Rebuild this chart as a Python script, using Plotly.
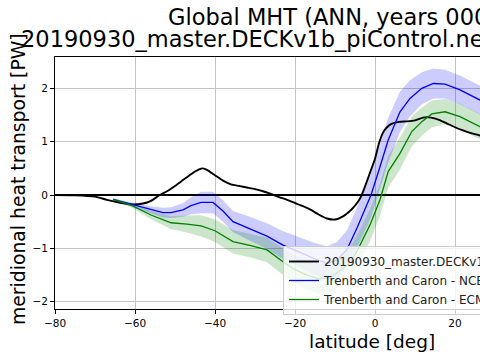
import plotly.graph_objects as go

# ---- data ----
model_lat = [-80, -75, -70, -67, -64, -61, -58, -56, -54, -52, -50, -48, -46, -44, -43, -42,
             -40, -38, -36, -34, -32, -30, -28, -26, -24, -22, -20, -18, -16, -14, -12, -10,
             -8, -6, -5, -4, -3, -2, -1, 0, 1, 2, 3, 4, 6, 8, 10, 12, 13, 14, 16, 18, 20,
             22, 24, 26, 28]
model_mht = [0.0, -0.005, -0.03, -0.09, -0.14, -0.175, -0.16, -0.11, -0.01, 0.07, 0.17, 0.28,
             0.39, 0.48, 0.50, 0.47, 0.37, 0.27, 0.20, 0.17, 0.14, 0.11, 0.07, 0.02, -0.04,
             -0.09, -0.15, -0.21, -0.28, -0.37, -0.44, -0.46, -0.40, -0.28, -0.20, -0.10,
             0.06, 0.26, 0.47, 0.68, 0.97, 1.17, 1.27, 1.33, 1.37, 1.38, 1.40, 1.45, 1.46,
             1.45, 1.41, 1.34, 1.27, 1.21, 1.16, 1.12, 1.08]

ncep_lat = [-65.5, -61, -57, -53, -51, -48, -46, -43.5, -40.5, -38, -35.5, -32, -27, -23, -21,
            -18, -15, -12, -9.5, -7, -4.5, -2, -1, 1.25, 3.3, 6.25, 8.75, 11.7, 14.6, 17.5,
            21.25, 26.25, 29]
ncep_mht = [-0.08, -0.17, -0.26, -0.33, -0.33, -0.28, -0.20, -0.14, -0.14, -0.30, -0.50, -0.61,
            -0.77, -0.94, -1.00, -1.10, -1.20, -1.28, -1.22, -1.02, -0.62, -0.20, 0.0, 0.53,
            1.03, 1.56, 1.81, 2.00, 2.09, 2.08, 1.97, 1.78, 1.65]
ncep_err = [0.02, 0.04, 0.06, 0.09, 0.10, 0.13, 0.16, 0.20, 0.20, 0.20, 0.20, 0.22, 0.24, 0.26,
            0.27, 0.28, 0.30, 0.32, 0.34, 0.36, 0.38, 0.40, 0.42, 0.42, 0.42, 0.38, 0.34, 0.30,
            0.28, 0.27, 0.27, 0.27, 0.27]

ecmwf_lat = [-65.5, -61, -56, -51, -47, -43.5, -40, -35.5, -31, -27, -23, -20, -17, -14, -11,
             -8.5, -6, -4, -1.25, 1.25, 3.3, 6.25, 9.2, 11.7, 14.2, 17.5, 21.25, 26.25, 29]
ecmwf_mht = [-0.08, -0.19, -0.375, -0.52, -0.545, -0.58, -0.67, -0.875, -0.95, -1.03, -1.25,
             -1.40, -1.50, -1.57, -1.55, -1.40, -1.25, -0.98, -0.56, -0.09, 0.44, 0.78, 1.19,
             1.375, 1.52, 1.56, 1.47, 1.28, 1.18]
ecmwf_err = [0.02, 0.04, 0.08, 0.12, 0.16, 0.20, 0.21, 0.22, 0.22, 0.23, 0.25, 0.26, 0.27, 0.28,
             0.29, 0.30, 0.30, 0.30, 0.30, 0.30, 0.30, 0.30, 0.28, 0.26, 0.25, 0.24, 0.24, 0.24,
             0.24]

x_ticks = [-80, -60, -40, -20, 0, 20, 40]
y_ticks = [-2, -1, 0, 1, 2]

title1 = "Global MHT (ANN, years 0001-0050)"
title2 = "20190930_master.DECKv1b_piControl.ne30_oEC.edison"
model_name = "20190930_master.DECKv1b_piControl.ne30_oEC.edison"
ncep_name = "Trenberth and Caron - NCEP"
ecmwf_name = "Trenberth and Caron - ECMWF"

# ---- figure geometry (pixels) ----
W, H = 480, 360
L, R, T, B = 55, 0, 57, 51
pw, ph = W - L - R, H - T - B


def px(xp):
    return (xp - L) / pw


def py(yp):
    return (H - B - yp) / ph


FONT = "DejaVu Sans"

fig = go.Figure()


def band(lat, val, err, color):
    up = [v + e for v, e in zip(val, err)]
    lo = [v - e for v, e in zip(val, err)]
    fig.add_trace(go.Scatter(x=lat + lat[::-1], y=up + lo[::-1], fill="toself",
                             fillcolor=color, line=dict(width=0), mode="lines",
                             showlegend=False, hoverinfo="skip"))


band(ncep_lat, ncep_mht, ncep_err, "rgba(0,0,255,0.2)")
band(ecmwf_lat, ecmwf_mht, ecmwf_err, "rgba(0,128,0,0.2)")

fig.add_trace(go.Scatter(x=model_lat, y=model_mht, mode="lines", name=model_name,
                         line=dict(color="black", width=1.9, shape="spline", smoothing=0.6)))
fig.add_trace(go.Scatter(x=ncep_lat, y=ncep_mht, mode="lines", name=ncep_name,
                         line=dict(color="blue", width=1.3)))
fig.add_trace(go.Scatter(x=ecmwf_lat, y=ecmwf_mht, mode="lines", name=ecmwf_name,
                         line=dict(color="green", width=1.3)))

axis_common = dict(showgrid=True, gridcolor="#c4c4c4", gridwidth=1, showline=True,
                   linecolor="black", linewidth=1, ticks="outside", ticklen=4,
                   tickcolor="black", tickfont=dict(family=FONT, size=10.5, color="black"))

fig.update_xaxes(range=[-80, -80 + pw / 4.0], tickvals=x_ticks, mirror=True,
                 zeroline=False, **axis_common)
fig.update_yaxes(range=[-2.137, 2.587], tickvals=y_ticks, mirror=False,
                 zeroline=True, zerolinecolor="black", zerolinewidth=1.6,
                 tickformat="d", **axis_common)

ann = [
    dict(text=title1, x=px(166), y=py(17.4), xanchor="left", yanchor="middle",
         font=dict(family=FONT, size=22.5, color="black")),
    dict(text=title2, x=px(19), y=py(39.4), xanchor="left", yanchor="middle",
         font=dict(family=FONT, size=22.5, color="black")),
    dict(text="meridional heat transport [PW]", x=px(18), y=py(179), textangle=-90,
         xanchor="center", yanchor="middle", font=dict(family=FONT, size=18.8, color="black")),
    dict(text="latitude [deg]", x=px(372), y=py(341.5), xanchor="center", yanchor="middle",
         font=dict(family=FONT, size=18.5, color="black")),
]
for a in ann:
    a.update(xref="paper", yref="paper", showarrow=False)

fig.update_layout(
    width=W, height=H,
    margin=dict(l=L, r=R, t=T, b=B, pad=0, autoexpand=False),
    paper_bgcolor="white", plot_bgcolor="white",
    font=dict(family=FONT, color="black"),
    annotations=ann,
    hovermode=False,
    legend=dict(x=px(283), y=py(246), xanchor="left", yanchor="top",
                bgcolor="rgba(255,255,255,0.8)", bordercolor="#cccccc", borderwidth=1,
                font=dict(family=FONT, size=12, color="#222222"), itemwidth=30),
    showlegend=True,
)

fig.write_html("out.html", post_script="document.body.style.margin='0';",
               config={"displayModeBar": False, "staticPlot": True})
